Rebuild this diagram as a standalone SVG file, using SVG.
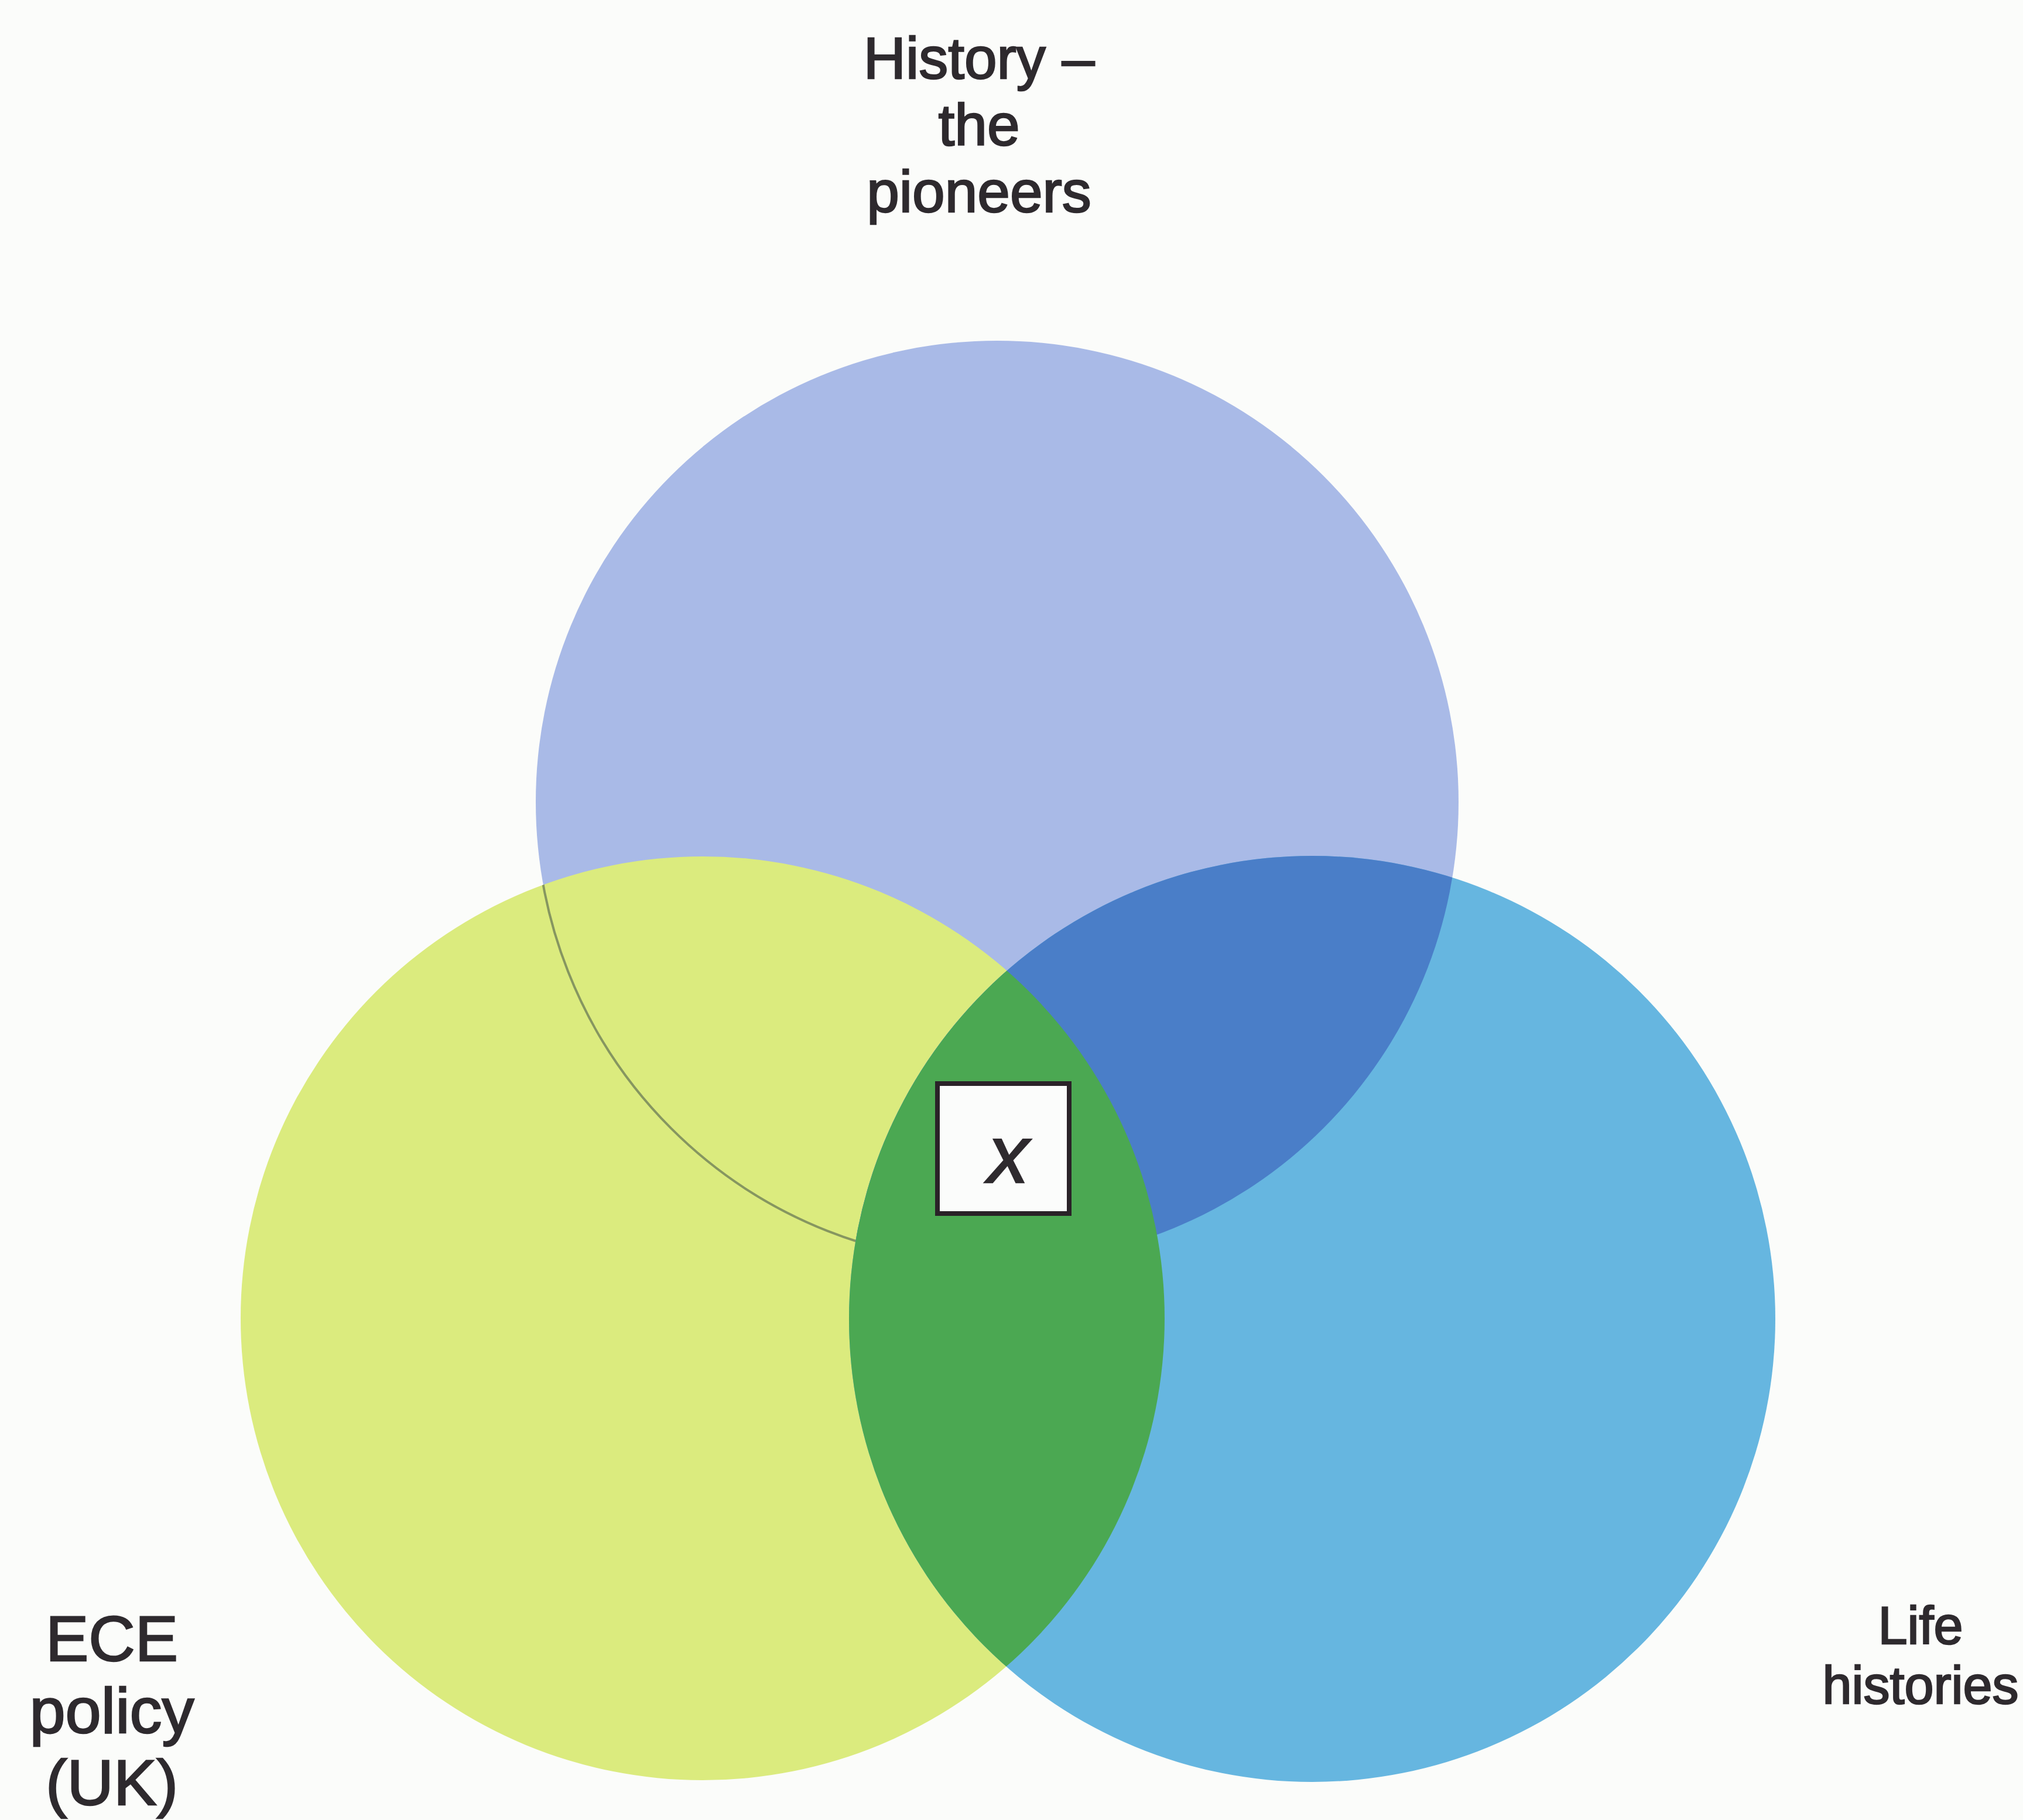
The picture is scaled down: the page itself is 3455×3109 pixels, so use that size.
<svg xmlns="http://www.w3.org/2000/svg" width="3455" height="3109" viewBox="0 0 3455 3109">
<style>
.lbl{font-family:"Liberation Sans",Arial,sans-serif;fill:#2e2a2e;stroke:#2e2a2e;stroke-width:2.5;text-anchor:middle}
</style>
<defs>
<clipPath id="clipCyan"><circle cx="2241" cy="2253" r="791"/></clipPath>
<clipPath id="clipYellow"><circle cx="1200" cy="2252" r="789"/></clipPath>
</defs>
<rect x="0" y="0" width="3455" height="3109" fill="#fbfcfa"/>
<g id="history">
<circle cx="1703" cy="1370" r="788" fill="#a9bae7"/>
<text class="lbl" font-size="100" x="1672" y="134">History –</text>
<text class="lbl" font-size="100" x="1672" y="248">the</text>
<text class="lbl" font-size="100" x="1672" y="362">pioneers</text>
</g>
<g id="ece-policy">
<circle cx="1200" cy="2252" r="789" fill="#dbeb7e"/>
<circle cx="1703" cy="1370" r="788" fill="none" stroke="#869660" stroke-width="4" clip-path="url(#clipYellow)"/>
<text class="lbl" font-size="110" x="191" y="2837">ECE</text>
<text class="lbl" font-size="110" x="191" y="2960">policy</text>
<text class="lbl" font-size="110" x="191" y="3083">(UK)</text>
</g>
<g id="life-histories">
<circle cx="2241" cy="2253" r="791" fill="#66b6e0"/>
<circle cx="1703" cy="1370" r="788" fill="#4a7ec8" clip-path="url(#clipCyan)"/>
<circle cx="1200" cy="2252" r="789" fill="#4ba852" clip-path="url(#clipCyan)"/>
<text class="lbl" font-size="90" x="3280" y="2808">Life</text>
<text class="lbl" font-size="90" x="3280" y="2910">histories</text>
</g>
<g id="x-box">
<rect x="1601" y="1851" width="225" height="222" fill="#fbfcfb" stroke="#2a2228" stroke-width="8"/>
<text class="lbl" font-size="140" font-style="italic" x="1722" y="2020">x</text>
</g>
</svg>
